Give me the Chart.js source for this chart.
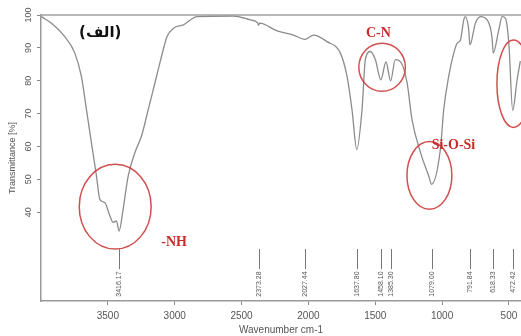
<!DOCTYPE html>
<html>
<head>
<meta charset="utf-8">
<script src="https://cdn.jsdelivr.net/npm/chart.js@4.4.0/dist/chart.umd.min.js"></script>
<style>
html, body { margin:0; padding:0; background:#fff; overflow:hidden; }
#myChartContainer { width:521px; height:336px; }
</style>
</head>
<body>
<div id="myChartContainer"><canvas id="myChart"></canvas></div>
<script>
// FT-IR spectrum (wavenumber cm-1 / transmittance %)
var wavenumbers = [3997, 3922, 3822, 3747, 3698, 3660, 3623, 3585, 3560, 3522,
	3485, 3460, 3436, 3416, 3386, 3348, 3298, 3249, 3198, 3136,
	3073, 3058, 3009, 2934, 2834, 2560, 2435, 2380, 2373, 2365,
	2235, 2111, 2027, 1961, 1861, 1761, 1711, 1674, 1638, 1599,
	1574, 1537, 1499, 1458, 1420, 1385, 1350, 1312, 1262, 1225,
	1162, 1100, 1079, 1013, 988, 951, 913, 888, 863, 838,
	826, 801, 792, 751, 713, 663, 626, 618, 576, 551,
	526, 501, 472, 440, 415];
var transmittance = [99.5, 97.5, 93.4, 88.4, 81.3, 71.2, 61.2, 51.0, 43.9, 42.9,
	38.9, 36.9, 37.4, 34.3, 40.9, 51.0, 58.1, 63.1, 71.2, 81.3,
	91.4, 93.4, 96.0, 97.0, 99.5, 99.7, 98.5, 97.6, 96.9, 97.5,
	95.2, 93.9, 92.6, 93.9, 91.9, 88.4, 81.3, 71.2, 59.1, 71.2,
	86.4, 88.9, 86.4, 80.3, 85.7, 80.0, 86.4, 85.8, 79.4, 68.2,
	58.2, 51.0, 48.5, 59.1, 71.2, 81.3, 88.4, 91.4, 92.4, 98.5,
	99.5, 95.5, 90.9, 97.5, 99.5, 98.5, 92.9, 88.4, 95.5, 99.5,
	99.0, 91.4, 71.0, 80.0, 86.0];

// peak picking marks under the spectrum
var peakWavenumbers = [3416.17, 2373.28, 2027.44, 1637.80, 1458.10, 1385.30, 1079.00, 791.84, 618.33, 472.42];
var peakLabels = ['3416.17', '2373.28', '2027.44', '1637.80', '1458.10', '1385.30', '1079.00', '791.84', '618.33', '472.42'];

var xTickValues = [500, 1000, 1500, 2000, 2500, 3000, 3500];
var yTickValues = [40, 50, 60, 70, 80, 90, 100];

// red circles + band names (centre / radius in axis units)
var bandMarks = [
	{ text: '-NH', tx: 3004, ty: 30.9, cx: 3445, cy: 41.7, rx: 269, ry: 12.9 },
	{ text: 'C-N', tx: 1477, ty: 94.5, cx: 1449, cy: 84.1, rx: 174, ry: 7.3 },
	{ text: 'Si-O-Si', tx: 915, ty: 60.3, cx: 1095, cy: 51.2, rx: 168, ry: 10.3 },
	{ text: '', tx: 0, ty: 0, cx: 466, cy: 79.1, rx: 124, ry: 13.3 }
];
var panelLabel = '(الف)';

var spectrumDecor = {
	id: 'spectrumDecor',
	afterDatasetsDraw: function(chart){
		var ctx = chart.ctx;
		var xs = chart.scales.x;
		var ys = chart.scales.y;
		var area = chart.chartArea;
		ctx.save();

		// top frame line
		ctx.strokeStyle = '#a0a0a0';
		ctx.lineWidth = 1.5;
		ctx.beginPath();
		ctx.moveTo(area.left, area.top);
		ctx.lineTo(area.right, area.top);
		ctx.stroke();

		// peak ticks and labels
		for(var i=0; i<peakWavenumbers.length; i++){
			var px = Math.round(xs.getPixelForValue(peakWavenumbers[i])) + 0.5;
			ctx.strokeStyle = '#777';
			ctx.lineWidth = 1;
			ctx.beginPath();
			ctx.moveTo(px, ys.getPixelForValue(28.8));
			ctx.lineTo(px, ys.getPixelForValue(22.7));
			ctx.stroke();
			ctx.save();
			ctx.translate(px, ys.getPixelForValue(22.0));
			ctx.rotate(-Math.PI/2);
			ctx.fillStyle = '#555';
			ctx.font = '7px "Liberation Sans", Arial, sans-serif';
			ctx.textAlign = 'right';
			ctx.textBaseline = 'middle';
			ctx.fillText(peakLabels[i], 0, 0);
			ctx.restore();
		}

		// red ellipses and band names
		for(var j=0; j<bandMarks.length; j++){
			var m = bandMarks[j];
			var cx = xs.getPixelForValue(m.cx);
			var cy = ys.getPixelForValue(m.cy);
			var rx = Math.abs(xs.getPixelForValue(m.cx + m.rx) - cx);
			var ry = Math.abs(ys.getPixelForValue(m.cy + m.ry) - cy);
			ctx.strokeStyle = 'rgba(205,60,60,0.9)';
			ctx.lineWidth = 1.5;
			ctx.beginPath();
			ctx.ellipse(cx, cy, rx, ry, 0, 0, Math.PI*2);
			ctx.stroke();
			if(m.text){
				ctx.fillStyle = '#c92a2a';
				ctx.font = 'bold 14px "Liberation Serif", "Times New Roman", serif';
				ctx.textAlign = 'center';
				ctx.textBaseline = 'middle';
				ctx.fillText(m.text, xs.getPixelForValue(m.tx), ys.getPixelForValue(m.ty));
			}
		}

		// panel label
		ctx.fillStyle = '#111';
		ctx.font = 'bold 15px "DejaVu Sans", sans-serif';
		ctx.textAlign = 'center';
		ctx.textBaseline = 'middle';
		ctx.fillText(panelLabel, xs.getPixelForValue(3557), ys.getPixelForValue(94.5));
		ctx.restore();
	}
};

function makeChart(){
	var points = [];
	for(var i=0; i<wavenumbers.length; i++){
		points.push({ x: wavenumbers[i], y: transmittance[i] });
	}
	var ctx = document.getElementById('myChart').getContext('2d');
	var myChart = new Chart(ctx, {
		type : 'line',
		data : {
			datasets : [{
				data : points,
				borderColor : '#8c8c8c',
				borderWidth : 1.3,
				pointRadius : 0,
				fill : false,
				cubicInterpolationMode : 'monotone'
			}]
		},
		options : {
			responsive : true,
			maintainAspectRatio : false,
			animation : false,
			layout : { padding : { top : 15, right : 0, left : 0, bottom : 0 } },
			plugins : { legend : { display : false }, tooltip : { enabled : false } },
			scales : {
				x : {
					type : 'linear',
					reverse : true,
					min : 410,
					max : 4000,
					afterBuildTicks : function(s){ s.ticks = xTickValues.map(function(v){ return { value : v }; }); },
					afterFit : function(s){ s.height = 35; },
					grid : { drawOnChartArea : false, tickLength : 4, color : '#888' },
					border : { color : '#999', width : 1.5 },
					ticks : { padding : 5, color : '#555', autoSkip : false, maxRotation : 0,
						callback : function(v){ return String(v); },
						font : { family : '"Liberation Sans", Arial, sans-serif', size : 10 } },
					title : { display : true, text : 'Wavenumber cm-1', color : '#555',
						padding : { top : 0, bottom : 0 },
						font : { family : '"Liberation Sans", Arial, sans-serif', size : 10 } }
				},
				y : {
					min : 13,
					max : 100,
					afterBuildTicks : function(s){ s.ticks = yTickValues.map(function(v){ return { value : v }; }); },
					afterFit : function(s){ s.width = 41; },
					grid : { drawOnChartArea : false, tickLength : 4, color : '#888' },
					border : { color : '#999', width : 1.5 },
					ticks : { padding : 1, color : '#555', minRotation : 90, maxRotation : 90, crossAlign : 'center',
						callback : function(v){ return String(v); },
						font : { family : '"Liberation Sans", Arial, sans-serif', size : 9 } },
					title : { display : true, text : 'Transmittance [%]', color : '#555',
						padding : { top : 7, bottom : 0 },
						font : { family : '"Liberation Sans", Arial, sans-serif', size : 9 } }
				}
			}
		},
		plugins : [spectrumDecor]
	});
}

makeChart();
</script>
</body>
</html>
